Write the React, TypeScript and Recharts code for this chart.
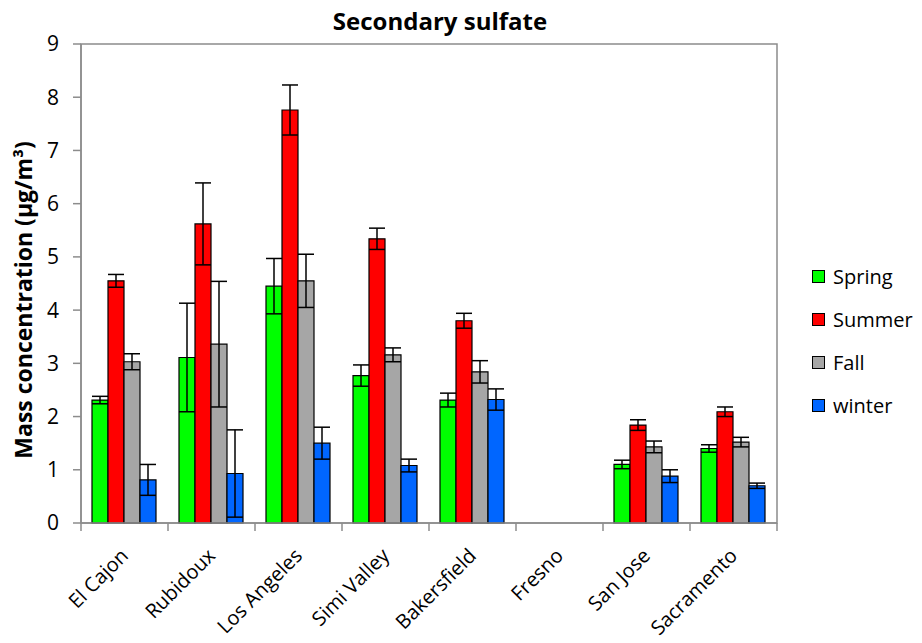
import React from "react";
import {
  BarChart,
  Bar,
  XAxis,
  YAxis,
  ErrorBar,
  ReferenceArea,
} from "recharts";

const SITES = [
  "El Cajon",
  "Rubidoux",
  "Los Angeles",
  "Simi Valley",
  "Bakersfield",
  "Fresno",
  "San Jose",
  "Sacramento",
];

// seasonal means and error bars (µg/m³); Fresno has no data
const spring = [2.31, 3.11, 4.45, 2.77, 2.31, null, 1.1, 1.4];
const springErr = [0.07, 1.02, 0.52, 0.2, 0.13, null, 0.08, 0.07];
const summer = [4.55, 5.62, 7.76, 5.34, 3.8, null, 1.84, 2.09];
const summerErr = [0.12, 0.77, 0.47, 0.2, 0.14, null, 0.1, 0.09];
const fall = [3.03, 3.36, 4.55, 3.16, 2.84, null, 1.43, 1.52];
const fallErr = [0.15, 1.18, 0.5, 0.13, 0.21, null, 0.11, 0.09];
const winter = [0.81, 0.93, 1.5, 1.08, 2.32, null, 0.88, 0.7];
const winterErr = [0.29, 0.82, 0.3, 0.12, 0.2, null, 0.12, 0.05];

const Y_TICKS = [0, 1, 2, 3, 4, 5, 6, 7, 8, 9];

const SERIES = [
  { key: "spring", err: "springErr", name: "Spring", color: "#00FF00" },
  { key: "summer", err: "summerErr", name: "Summer", color: "#FF0000" },
  { key: "fall", err: "fallErr", name: "Fall", color: "#A6A6A6" },
  { key: "winter", err: "winterErr", name: "winter", color: "#0066FF" },
];

const data = SITES.map((site, i) => ({
  site,
  spring: spring[i],
  springErr: springErr[i],
  summer: summer[i],
  summerErr: summerErr[i],
  fall: fall[i],
  fallErr: fallErr[i],
  winter: winter[i],
  winterErr: winterErr[i],
}));

const FONT = "'Open Sans', sans-serif";
const AXIS_GRAY = "#8C8C8C";
const BAND = 87;

const XTick = (props: any) => {
  const { x, y, payload, index } = props;
  const tx = x + 5;
  const ty = y + 34;
  return (
    <g>
      <line x1={x - BAND / 2} y1={y} x2={x - BAND / 2} y2={y + 8} stroke={AXIS_GRAY} strokeWidth={1.5} />
      {index === SITES.length - 1 && (
        <line x1={x + BAND / 2} y1={y} x2={x + BAND / 2} y2={y + 8} stroke={AXIS_GRAY} strokeWidth={1.5} />
      )}
      <text
        x={tx}
        y={ty}
        transform={`rotate(-45 ${tx} ${ty})`}
        textAnchor="end"
        fontSize={20}
        fontFamily={FONT}
        fill="#000"
      >
        {payload.value}
      </text>
    </g>
  );
};

const LegendBox = () => (
  <div
    style={{
      position: "absolute",
      left: 812,
      top: 255,
      width: 110,
      overflow: "hidden",
      fontFamily: FONT,
      fontSize: 20,
      lineHeight: 1,
    }}
  >
    {SERIES.map((s) => (
      <div
        key={s.key}
        style={{ display: "flex", alignItems: "center", height: 43, whiteSpace: "nowrap" }}
      >
        <span
          style={{
            display: "inline-block",
            width: 11,
            height: 11,
            background: s.color,
            border: "1px solid #000",
            marginRight: 8,
          }}
        />
        {s.name}
      </div>
    ))}
  </div>
);

export default function App() {
  return (
    <div style={{ position: "absolute", left: 0, top: 0, width: 922, height: 643, background: "#fff", overflow: "hidden" }}>
      <div
        style={{
          position: "absolute",
          left: 0,
          width: 880,
          top: 4,
          textAlign: "center",
          fontFamily: FONT,
          fontWeight: 700,
          fontSize: 24,
          zIndex: 2,
        }}
      >
        Secondary sulfate
      </div>
      <BarChart
        width={922}
        height={643}
        data={data}
        margin={{ top: 44, right: 145, left: 0, bottom: 0 }}
        barCategoryGap={11}
        barGap={0}
      >
        <ReferenceArea y1={0} y2={9} fill="none" stroke={AXIS_GRAY} strokeWidth={1.5} ifOverflow="visible" />
        <XAxis
          dataKey="site"
          height={120}
          interval={0}
          tickLine={false}
          tickSize={0}
          tickMargin={0}
          axisLine={{ stroke: AXIS_GRAY, strokeWidth: 1.5 }}
          tick={<XTick />}
        />
        <YAxis
          width={81}
          domain={[0, 9]}
          ticks={Y_TICKS}
          interval={0}
          tickSize={8}
          tickMargin={14}
          axisLine={{ stroke: AXIS_GRAY, strokeWidth: 1.5 }}
          tickLine={{ stroke: AXIS_GRAY, strokeWidth: 1.5 }}
          tick={{ fill: "#000", fontSize: 21, fontFamily: FONT }}
          label={{
            content: () => (
              <text
                x={26}
                y={300}
                transform="rotate(-90 26 300)"
                textAnchor="middle"
                dominantBaseline="middle"
                fontFamily={FONT}
                fontWeight={700}
                fontSize={23}
                fill="#000"
              >
                Mass concentration (μg/m³)
              </text>
            ),
          }}
        />
        {SERIES.map((s) => (
          <Bar
            key={s.key}
            dataKey={s.key}
            name={s.name}
            fill={s.color}
            stroke="#000"
            strokeWidth={1.2}
            isAnimationActive={false}
          >
            <ErrorBar dataKey={s.err} width={8} stroke="#000" strokeWidth={1.5} direction="y" />
          </Bar>
        ))}
      </BarChart>
      <LegendBox />
    </div>
  );
}
